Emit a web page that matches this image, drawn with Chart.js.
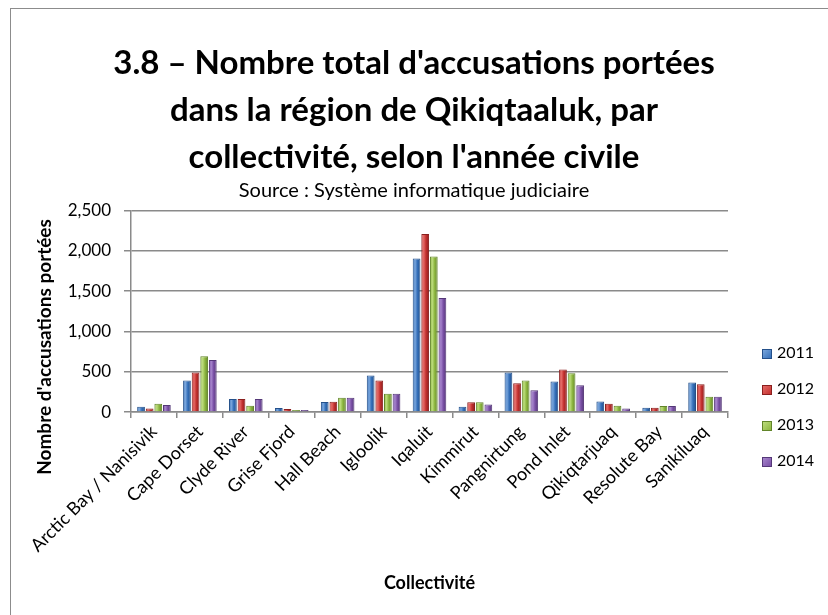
<!DOCTYPE html>
<html>
<head>
<meta charset="utf-8">
<script src="https://cdn.jsdelivr.net/npm/chart.js@4/dist/chart.umd.min.js"></script>
<style>
    html, body { margin: 0; padding: 0; background: #fff; }
    #wrap { position: relative; width: 828px; height: 615px; overflow: hidden; }
    #frame { position: absolute; left: 10px; top: 8px; width: 900px; height: 700px; border: 1.5px solid #8c8c8c; box-sizing: border-box; }
    #legend { position: absolute; left: 762px; top: 334px; font-family: Lato, sans-serif; font-size: 16px; color: #000; }
    #legend div { height: 36px; line-height: 36px; white-space: nowrap; }
    #legend span { display: inline-block; width: 10px; height: 10px; margin-right: 5px; vertical-align: -1px; box-sizing: border-box; }
</style>
</head>
<body>
<div id="wrap">
    <div id="frame"></div>
    <canvas id="chart" width="828" height="615"></canvas>
    <div id="legend"></div>
</div>
<script>
// Communities on the x axis.
const communities = [ "Arctic Bay / Nanisivik", "Cape Dorset", "Clyde River", "Grise Fjord", "Hall Beach",
    "Igloolik", "Iqaluit", "Kimmirut", "Pangnirtung", "Pond Inlet", "Qikiqtarjuaq", "Resolute Bay", "Sanikiluaq" ];
const years = [ "2011", "2012", "2013", "2014" ];
// Total charges laid, one array per year.
const charges2011 = [ 67, 392, 163, 50, 125, 454, 1906, 67, 492, 379, 133, 54, 367 ];
const charges2012 = [ 46, 492, 163, 38, 129, 392, 2210, 121, 358, 529, 104, 54, 346 ];
const charges2013 = [ 104, 692, 79, 25, 179, 229, 1931, 121, 392, 483, 79, 75, 192 ];
const charges2014 = [ 88, 646, 163, 25, 179, 229, 1417, 96, 271, 333, 46, 75, 192 ];

const fillColors = [ "#3570ba", "#c3302f", "#8db640", "#7a50a6" ];
const lightColors = [ "#7aa6dc", "#e46a66", "#bcdc7c", "#a685cc" ];
const edgeColors = [ "#24508a", "#8a1f1e", "#62852a", "#553878" ];
const series = [ charges2011, charges2012, charges2013, charges2014 ];

const gridGray = "#8a8a8a";
const font = "Lato, 'Open Sans', sans-serif";

/**
 * Gives each bar a horizontal shading, like the rounded bars of the original.
 * The bar position is only known after a first layout, so fall back to a flat colour.
 */
function barFill( context ) {
    const i = context.datasetIndex;
    const bar = context.element;
    if ( !bar || !isFinite( bar.x ) || !bar.width ) return fillColors[ i ];
    const left = bar.x - bar.width / 2;
    const g = context.chart.ctx.createLinearGradient( left, 0, left + bar.width, 0 );
    g.addColorStop( 0, fillColors[ i ] );
    g.addColorStop( 0.3, lightColors[ i ] );
    g.addColorStop( 0.6, fillColors[ i ] );
    g.addColorStop( 1, edgeColors[ i ] );
    return g;
}

/**
 * Builds the legend next to the chart, one row per year.
 */
function buildLegend() {
    const box = document.getElementById( "legend" );
    years.forEach( function( year, i ) {
        const row = document.createElement( "div" );
        row.innerHTML = '<span style="background:linear-gradient(135deg,' + lightColors[ i ] + ',' + fillColors[ i ] +
            ');border:1px solid ' + edgeColors[ i ] + '"></span>' + year;
        box.appendChild( row );
    });
}

const chart = new Chart( document.getElementById( "chart" ), {
    type: "bar",
    data: {
        labels: communities,
        datasets: series.map( function( values, i ) {
            return {
                label: years[ i ],
                data: values,
                backgroundColor: barFill,
                borderColor: edgeColors[ i ],
                borderWidth: 1,
                barPercentage: 0.9,
                categoryPercentage: 0.75
            };
        })
    },
    options: {
        responsive: false,
        animation: false,
        layout: { padding: 0 },
        plugins: {
            legend: { display: false },
            tooltip: { enabled: false },
            title: {
                display: true,
                text: [ "3.8 – Nombre total d'accusations portées", "dans la région de Qikiqtaaluk, par", "collectivité, selon l'année civile" ],
                color: "#000",
                font: { family: font, size: 33, weight: "bold", lineHeight: 1.42 },
                padding: { top: 40, bottom: 0 }
            },
            subtitle: {
                display: true,
                text: "Source : Système informatique judiciaire",
                color: "#000",
                font: { family: font, size: 20, lineHeight: 1.0 },
                padding: { top: 0, bottom: 10 }
            }
        },
        scales: {
            x: {
                grid: { offset: true, drawOnChartArea: false, tickLength: 6, color: gridGray, lineWidth: 1.5 },
                border: { color: gridGray, width: 1.5 },
                ticks: { color: "#000", font: { family: font, size: 18 }, maxRotation: 45, minRotation: 45, autoSkip: false },
                title: {
                    display: true,
                    text: "Collectivité",
                    color: "#000",
                    font: { family: font, size: 18, weight: "bold" },
                    padding: { top: 13, bottom: 21 }
                }
            },
            y: {
                min: 0,
                max: 2500,
                ticks: { stepSize: 500, color: "#000", font: { family: font, size: 17 }, padding: 13 },
                grid: { color: gridGray, lineWidth: 1.5, tickLength: 7 },
                border: { color: gridGray, width: 1.5 },
                title: {
                    display: true,
                    // Trailing em spaces push the title down, as in the original where it sits low.
                    text: "Nombre d'accusations portées\u2003\u2003\u2003\u2003\u2003",
                    color: "#000",
                    font: { family: font, size: 19, weight: "bold" },
                    padding: { top: 33, bottom: 4 }
                },
                // Fixed width so the plot starts where the original one does.
                afterFit: function( scale ) { scale.width = 131; }
            },
            // Empty axis that keeps room on the right for the legend.
            yRight: {
                position: "right",
                display: true,
                grid: { display: false },
                border: { display: false },
                ticks: { display: false },
                afterFit: function( scale ) { scale.width = 100; }
            }
        }
    }
});

// Second pass so the shading can use the bar positions.
chart.update();
buildLegend();
</script>
</body>
</html>
